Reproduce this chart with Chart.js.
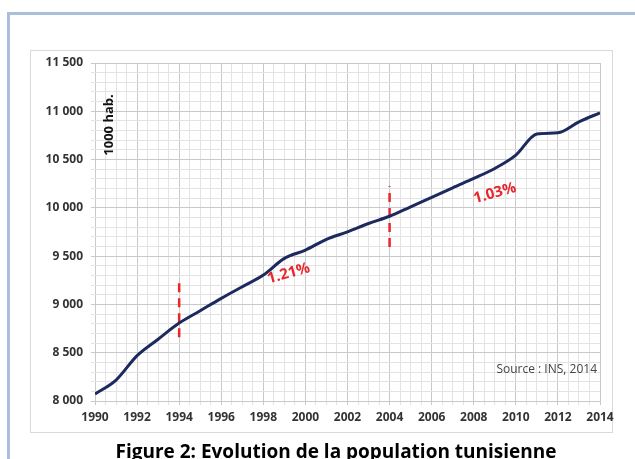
<!DOCTYPE html>
<html>
<head>
<meta charset="utf-8">
<script src="https://cdn.jsdelivr.net/npm/chart.js@4.4.1/dist/chart.umd.min.js"></script>
<style>
  html, body { margin: 0; padding: 0; background: #fff; }
  #wrap { position: relative; width: 635px; height: 459px; overflow: hidden; }
  canvas { position: absolute; left: 0; top: 0; }
</style>
</head>
<body>
<div id="wrap"><canvas id="chart" width="635" height="459"></canvas></div>
<script>
// Population (1000 hab.)
const years = [1990, 1991, 1992, 1993, 1994, 1995, 1996, 1997, 1998, 1999, 2000, 2001, 2002,
               2003, 2004, 2005, 2006, 2007, 2008, 2009, 2010, 2011, 2012, 2013, 2014];
const population = [8072, 8217, 8470, 8640, 8807, 8935, 9063, 9183, 9304, 9477, 9563, 9674, 9752,
                    9838, 9913, 10011, 10108, 10208, 10305, 10408, 10546, 10765, 10777, 10891, 10984];

// break markers (dashed red lines) and growth rate labels
const breakYears = [1994, 2004];
const breakLow = [8660, 9595];
const breakHigh = [9280, 10225];
const rateLabels = ['1.21%', '1.03%'];
const rateX = [1999.2, 2009.0];
const rateY = [9320, 10150];

const yMin = 8000, yMax = 11500;
const FONT = '"Open Sans", sans-serif';

function fmtThousands(v) {
    return String(v).replace(/\B(?=(\d{3})+(?!\d))/g, ' ');
}

const datasets = [{
    data: years.map((y, i) => ({ x: y, y: population[i] })),
    borderColor: '#1c2a5e',
    borderWidth: 3,
    pointRadius: 0,
    tension: 0.4,
    cubicInterpolationMode: 'monotone'
}];
breakYears.forEach((yr, i) => {
    datasets.push({
        data: [{ x: yr, y: breakLow[i] }, { x: yr, y: breakHigh[i] }],
        borderColor: '#e8262b',
        borderWidth: 2.5,
        borderDash: [9, 6],
        pointRadius: 0
    });
});

// frame, box, annotations and figure caption
const decor = {
    id: 'decor',
    beforeDraw(chart) {
        const ctx = chart.ctx;
        ctx.save();
        ctx.fillStyle = '#fff';
        ctx.fillRect(0, 0, chart.width, chart.height);
        ctx.strokeStyle = '#a9bfdc';
        ctx.lineWidth = 3;
        ctx.beginPath();
        ctx.moveTo(8.5, 470);
        ctx.lineTo(8.5, 13.5);
        ctx.lineTo(640, 13.5);
        ctx.stroke();
        ctx.strokeStyle = '#d9d9d9';
        ctx.lineWidth = 1;
        ctx.strokeRect(30.5, 50.5, 582, 382);
        ctx.restore();
    },
    afterDraw(chart) {
        const ctx = chart.ctx;
        const xs = chart.scales.x, ys = chart.scales.y;
        ctx.save();
        ctx.fillStyle = '#e8262b';
        ctx.font = 'bold 15px ' + FONT;
        ctx.textAlign = 'center';
        ctx.textBaseline = 'middle';
        rateLabels.forEach((t, i) => {
            ctx.save();
            ctx.translate(xs.getPixelForValue(rateX[i]), ys.getPixelForValue(rateY[i]));
            ctx.rotate(-0.27);
            ctx.fillText(t, 0, 0);
            ctx.restore();
        });
        ctx.fillStyle = '#111';
        ctx.font = 'bold 13px ' + FONT;
        ctx.save();
        ctx.translate(109, 125);
        ctx.rotate(-Math.PI / 2);
        ctx.fillText('1000 hab.', 0, 0);
        ctx.restore();
        ctx.fillStyle = '#444';
        ctx.font = '12px ' + FONT;
        ctx.textAlign = 'right';
        ctx.fillText('Source : INS, 2014', 597, 370);
        ctx.fillStyle = '#000';
        ctx.font = 'bold 19px ' + FONT;
        ctx.textAlign = 'center';
        ctx.fillText('Figure 2: Evolution de la population tunisienne', 336, 453);
        ctx.restore();
    }
};

new Chart(document.getElementById('chart'), {
    type: 'line',
    data: { datasets },
    options: {
        responsive: false,
        animation: false,
        layout: { padding: { top: 63, right: 35, left: 0, bottom: 0 } },
        plugins: { legend: { display: false }, tooltip: { enabled: false } },
        scales: {
            x: {
                type: 'linear',
                min: years[0],
                max: years[years.length - 1],
                afterFit(s) { s.height = 58; },
                border: { display: false },
                grid: {
                    color: c => (c.tick && c.tick.value % 2 === 0) ? '#c9c9c9' : '#e3e3e3',
                    lineWidth: 1,
                    tickLength: 4
                },
                ticks: {
                    stepSize: 0.5,
                    autoSkip: false,
                    maxRotation: 0,
                    padding: 5,
                    color: '#333',
                    font: { family: FONT, size: 12, weight: 'bold' },
                    callback: v => (v % 2 === 0 ? String(v) : '')
                }
            },
            y: {
                min: yMin,
                max: yMax,
                afterFit(s) { s.width = 95; },
                border: { display: false },
                grid: {
                    color: c => (c.tick && c.tick.value % 500 === 0) ? '#c9c9c9' : '#e3e3e3',
                    lineWidth: 1,
                    tickLength: 4
                },
                ticks: {
                    stepSize: 100,
                    autoSkip: false,
                    padding: 8,
                    color: '#333',
                    font: { family: FONT, size: 12, weight: 'bold' },
                    callback: v => (v % 500 === 0 ? fmtThousands(v) : '')
                }
            }
        }
    },
    plugins: [decor]
});
</script>
</body>
</html>
